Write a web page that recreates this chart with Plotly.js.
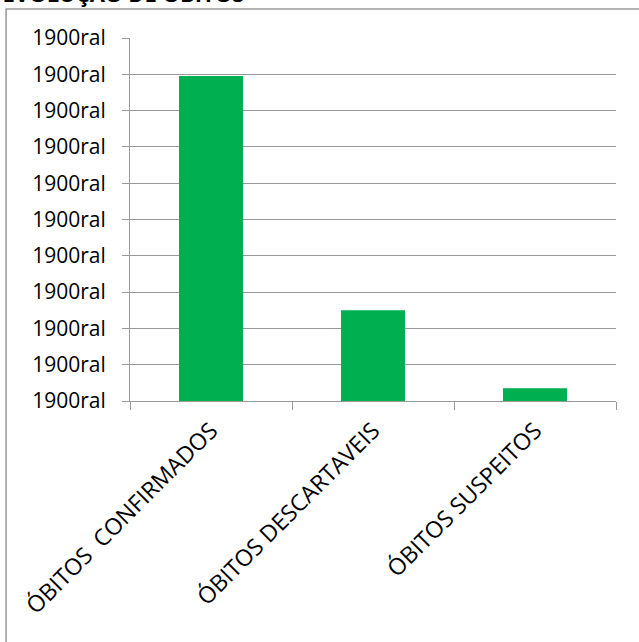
<!DOCTYPE html>
<html>
<head>
<meta charset="utf-8">
<script src="https://cdn.plot.ly/plotly-3.0.1.min.js"></script>
<style>html,body{margin:0;padding:0;background:#fff;}#chart{width:639px;height:642px;}</style>
</head>
<body>
<div id="chart"></div>
<script>
var categories = ["ÓBITOS\u00a0 CONFIRMADOS", "ÓBITOS DESCARTAVEIS", "ÓBITOS SUSPEITOS"];
var values = [179, 50, 7];
var tickValues = [0, 20, 40, 60, 80, 100, 120, 140, 160, 180, 200];
var tickLabels = ["1900ral","1900ral","1900ral","1900ral","1900ral","1900ral","1900ral","1900ral","1900ral","1900ral","1900ral"];
var chartTitle = "EVOLUÇÃO DE ÓBITOS";

var fontFam = "Open Sans, Lato, sans-serif";
var data = [{
  type: "bar",
  x: categories,
  y: values,
  marker: {color: "#00b050"},
  width: 0.395,
  hoverinfo: "x+y"
}];
var layout = {
  width: 639, height: 642,
  margin: {l: 130, r: 23, t: 38, b: 241},
  paper_bgcolor: "#fff", plot_bgcolor: "#fff",
  showlegend: false,
  title: {text: "<b>" + chartTitle + "</b>", x: 0.004, xanchor: "left", y: 0.997, yanchor: "bottom",
          font: {family: fontFam, size: 22, color: "#000"}},
  font: {family: fontFam, color: "#000"},
  xaxis: {
    type: "category",
    tickson: "boundaries",
    ticks: "outside", ticklen: 8, tickcolor: "#999", tickwidth: 1,
    showline: true, linecolor: "#999", linewidth: 1,
    showgrid: false,
    tickangle: -45,
    ticklabelstandoff: 6,
    tickfont: {family: fontFam, size: 23, color: "#000"},
    automargin: false,
    fixedrange: true
  },
  yaxis: {
    range: [0, 200],
    tickvals: tickValues, ticktext: tickLabels,
    ticks: "outside", ticklen: 7, tickcolor: "#999", tickwidth: 1,
    showline: true, linecolor: "#999", linewidth: 1,
    showgrid: true, gridcolor: "#999", gridwidth: 1,
    zeroline: false,
    ticklabelstandoff: 12,
    tickfont: {family: fontFam, size: 21, color: "#000"},
    automargin: false,
    fixedrange: true
  },
  shapes: [{
    type: "rect", xref: "paper", yref: "paper",
    x0: -0.255, x1: 1.1, y0: -0.7, y1: 1.08,
    line: {color: "#999", width: 1.5}, fillcolor: "rgba(0,0,0,0)", layer: "below"
  }]
};
Plotly.newPlot("chart", data, layout, {displayModeBar: false, staticPlot: true});
</script>
</body>
</html>
